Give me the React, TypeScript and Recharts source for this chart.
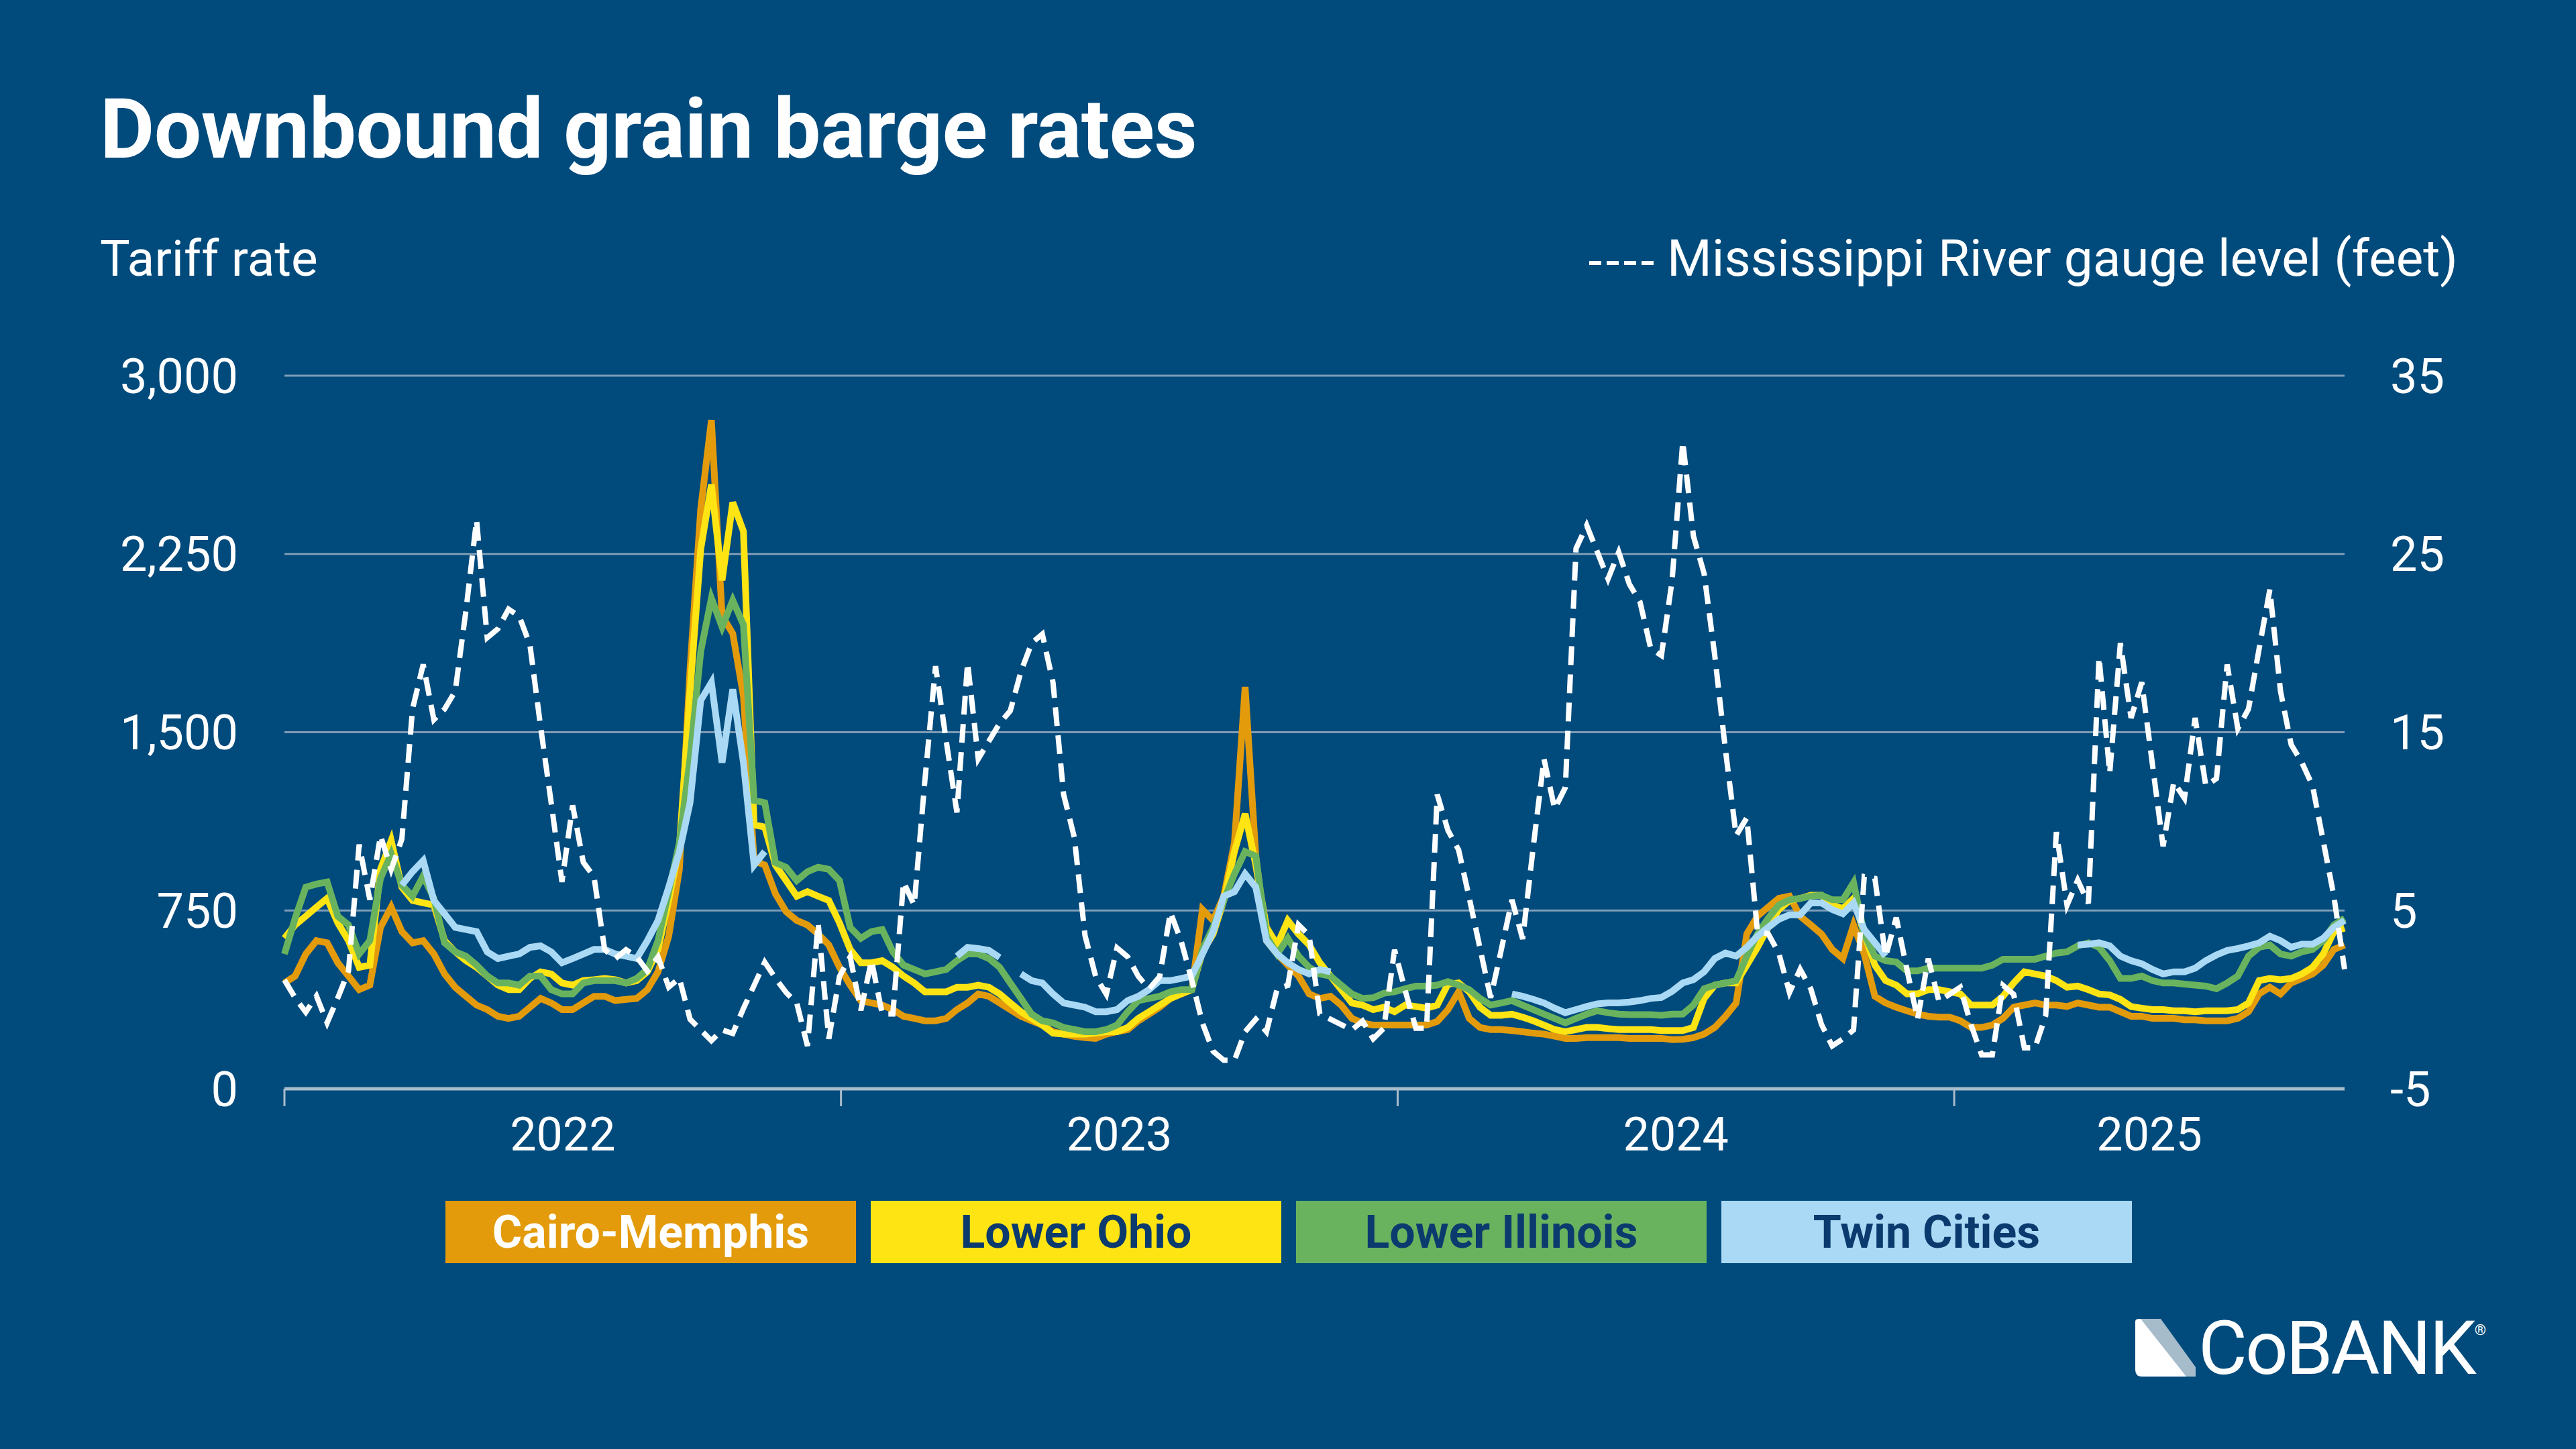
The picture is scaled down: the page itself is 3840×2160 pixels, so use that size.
import React from 'react';
import { CartesianGrid, Line, LineChart, XAxis, YAxis } from 'recharts';

const W = 3840;
const H = 2160;
const BG = '#004a7c';
const GRID = '#7f9cb5';
const AXIS = '#a9bccb';
const FONT = 'Roboto, "Noto Sans", sans-serif';

const ORANGE = '#e39b0c';
const YELLOW = '#ffe414';
const GREEN = '#6ab35e';
const LIGHT_BLUE = '#a9d9f4';
const NAVY = '#0b3a6e';

// Weekly readings, first week of 2022 through mid-September 2025 (194 weeks)
const cairoMemphis = [
  445, 474, 567, 623, 614, 530, 474, 417, 436, 679, 764, 661, 614, 623, 567, 483, 427, 389, 352, 333, 305, 296, 305, 343, 380, 361, 333, 333, 361, 389, 389, 371, 376,
  380, 417, 492, 642, 923, 1765, 2439, 2813, 1990, 1915, 1653, 960, 941, 820, 745, 708, 689, 651, 605, 511, 436, 371, 361, 352, 333, 305, 296, 286, 286, 296, 333, 361,
  399, 389, 361, 333, 305, 286, 268, 240, 230, 221, 215, 212, 230, 240, 249, 286, 314, 343, 380, 399, 417, 754, 708, 810, 1035, 1690, 979, 623, 567, 520, 474, 399, 380,
  389, 352, 296, 277, 268, 268, 268, 268, 268, 268, 283, 333, 408, 296, 258, 249, 249, 245, 240, 234, 230, 221, 212, 212, 215, 215, 215, 215, 212, 212, 212, 212, 207,
  208, 215, 230, 258, 305, 361, 651, 726, 764, 801, 810, 726, 689, 651, 586, 548, 689, 567, 389, 361, 343, 328, 314, 305, 301, 301, 286, 258, 258, 268, 296, 343,
  352, 361, 352, 352, 346, 361, 352, 343, 343, 324, 305, 305, 296, 296, 296, 290, 290, 286, 286, 286, 296, 324, 399, 427, 399, 445, 464, 483, 520, 586, 605,
];

const lowerOhio = [
  633, 689, 726, 764, 801, 698, 623, 511, 520, 923, 1044, 848, 792, 782, 773, 623, 576, 539, 511, 474, 436, 417, 417, 464, 492, 483, 445, 436, 455, 459, 464, 459, 445,
  455, 492, 586, 792, 1016, 1671, 2270, 2542, 2139, 2467, 2345, 1110, 1101, 941, 876, 810, 829, 810, 792, 698, 586, 530, 530, 539, 511, 474, 445, 408, 408, 408, 427, 427,
  436, 427, 399, 361, 324, 296, 268, 234, 230, 230, 230, 234, 240, 240, 258, 296, 324, 352, 380, 399, 417, 576, 651, 792, 998, 1157, 941, 679, 605, 708, 651, 605, 530,
  474, 417, 361, 352, 333, 343, 324, 352, 346, 339, 352, 440, 445, 408, 343, 309, 309, 314, 301, 286, 268, 249, 240, 249, 258, 258, 253, 249, 249, 249, 249, 245, 245,
  245, 258, 380, 436, 445, 445, 520, 595, 679, 754, 792, 801, 814, 814, 773, 758, 801, 651, 520, 455, 436, 399, 399, 417, 417, 408, 399, 352, 352, 352, 389, 445,
  492, 483, 474, 455, 427, 432, 417, 399, 395, 376, 346, 339, 333, 333, 328, 328, 324, 328, 328, 328, 333, 361, 455, 464, 459, 464, 483, 511, 567, 661, 676,
];

const lowerIllinois = [
  567, 717, 848, 861, 870, 726, 689, 567, 623, 885, 988, 857, 810, 895, 801, 614, 576, 558, 520, 474, 445, 445, 436, 474, 474, 417, 399, 399, 445, 455, 455, 455, 445,
  464, 502, 623, 829, 1035, 1391, 1840, 2064, 1943, 2055, 1952, 1213, 1203, 951, 932, 876, 913, 932, 923, 876, 679, 633, 661, 670, 576, 520, 502, 483, 492, 502, 539, 567,
  567, 548, 511, 445, 380, 314, 286, 277, 258, 249, 240, 240, 249, 268, 324, 371, 380, 389, 408, 417, 417, 586, 679, 792, 904, 998, 979, 642, 567, 633, 558, 511, 483,
  474, 436, 399, 380, 383, 402, 408, 421, 432, 432, 436, 451, 436, 417, 380, 352, 361, 371, 352, 333, 314, 296, 277, 296, 314, 328, 320, 314, 312, 312, 312, 309, 314,
  314, 352, 421, 436, 445, 455, 558, 651, 717, 773, 795, 801, 810, 814, 795, 795, 867, 651, 558, 539, 533, 496, 496, 507, 507, 507, 507, 507, 507, 520, 545, 545,
  545, 545, 558, 571, 576, 601, 614, 595, 539, 464, 464, 474, 455, 445, 445, 440, 436, 432, 421, 445, 474, 558, 595, 605, 567, 558, 576, 586, 623, 689, 717,
];

// Twin Cities is not quoted while the upper river is closed in winter
const twinCities = [
  null, null, null, null, null, null, null, null, null, null, null,
  857, 913, 960, 792, 736, 679, 670, 661, 576, 548, 558, 567, 595, 601, 576, 530, 548, 567, 586, 586, 567, 558,
  548, 623, 708, 848, 998, 1204, 1634, 1709, 1372, 1681, 1372, 941, 998,
  null, null, null, null, null, null, null, null, null, null, null, null, null, null, null, null, null,
  558, 595, 590, 582, 552,
  null,
  483, 455, 445, 399, 361, 352, 343, 324, 324, 333, 371, 389, 417, 455, 455, 464, 474, 567, 661, 810, 829, 904, 848, 623, 567, 530, 502, 483, 502, 492,
  null, null, null, null, null, null, null, null, null, null, null, null, null, null, null, null,
  399, 389, 376, 361, 339, 320, 333, 346, 357, 361, 361, 365, 371, 380, 384, 410, 445, 459, 492, 548, 571, 558, 595, 642, 679, 713, 732, 732, 782, 782, 754, 736, 782, 670, 614, 558,
  null, null, null, null, null, null, null, null, null, null, null, null, null, null, null, null, null,
  605, 608, 614, 601, 558, 539, 526, 502, 483, 492, 492, 507, 539, 563, 582, 590, 601, 614, 642, 623, 595, 608, 608, 633, 679, 708,
];

const gaugeFeet = [
  1.1, 0.1, -0.7, 0.2, -1.3, 0.1, 1.6, 8.7, 5.6, 9.2, 7.3, 9.0, 16.3, 18.8, 15.7, 16.3, 17.3, 21.8, 26.9, 20.3, 20.8, 21.9, 21.5, 19.9, 15.3, 11.0, 6.6, 10.9, 7.7, 6.9, 2.8, 2.3, 2.8,
  2.4, 1.6, 2.4, 0.7, 1.2, -1.1, -1.7, -2.3, -1.7, -1.9, -0.5, 0.8, 2.1, 1.2, 0.4, -0.2, -2.6, 4.3, -2.2, 1.3, 2.4, -0.6, 2.2, -0.8, -0.8, 6.6, 5.3, 12.3, 18.7, 14.5, 10.5, 18.9,
  13.5, 14.5, 15.5, 16.2, 18.4, 20.0, 20.5, 17.8, 11.5, 9.1, 3.6, 1.3, 0.3, 2.9, 2.4, 1.3, 0.6, 1.3, 4.9, 3.3, 1.1, -1.3, -2.9, -3.4, -3.4, -1.8, -1.1, -1.8, 0.6, 0.8, 4.2, 3.6, -0.8,
  -1.1, -1.4, -1.7, -1.2, -2.2, -1.6, 2.8, 0.5, -1.6, -1.6, 11.5, 9.5, 8.4, 5.7, 2.9, 0.1, 2.8, 5.6, 3.4, 8.6, 13.5, 10.7, 11.9, 25.3, 26.6, 25.1, 23.6, 25.1, 23.3, 22.3, 19.7, 19.3, 23.5,
  31.3, 26.0, 23.9, 19.3, 14.0, 9.2, 10.2, 3.8, 3.7, 2.6, 0.4, 1.7, 0.6, -1.4, -2.6, -2.2, -1.7, 6.9, 6.8, 2.4, 4.6, 1.7, -1.1, 2.3, -0.1, 0.3, 0.7, -1.4, -3.1, -3.1, 0.8, 0.3,
  -2.7, -2.7, -0.9, 9.4, 5.3, 6.7, 5.4, 19.2, 12.7, 20.0, 15.8, 17.8, 13.2, 8.6, 12.2, 11.3, 15.8, 12.0, 12.4, 18.8, 15.2, 16.3, 19.7, 23.0, 17.3, 14.3, 13.3, 12.0, 8.9, 5.8, 1.7,
];

const YEARS = ['2022', '2023', '2024', '2025'];
// week offsets (from Jan 1, 2022) where each calendar year begins
const YEAR_STARTS = [0, 52.14, 104.29, 156.43];
const RATE_TICKS = [0, 750, 1500, 2250, 3000];
const GAUGE_TICKS = [-5, 5, 15, 25, 35];

const LEGEND = [
  { label: 'Cairo-Memphis', fill: ORANGE, text: '#ffffff' },
  { label: 'Lower Ohio', fill: YELLOW, text: NAVY },
  { label: 'Lower Illinois', fill: GREEN, text: NAVY },
  { label: 'Twin Cities', fill: LIGHT_BLUE, text: NAVY },
];

const LAST_WEEK = cairoMemphis.length - 1;
const YEAR_MIDS = YEAR_STARTS.map((s, k) => (s + (YEAR_STARTS[k + 1] ?? LAST_WEEK)) / 2);
const X_TICKS = [...YEAR_STARTS, ...YEAR_MIDS].sort((a, b) => a - b);

const data = cairoMemphis.map((v, i) => ({
  week: i,
  cm: v,
  lo: lowerOhio[i],
  li: lowerIllinois[i],
  tc: twinCities[i],
  gauge: gaugeFeet[i],
}));

// Year boundaries get a short tick mark; the labels sit midway through each year
function YearTick({ x, y, payload }: any) {
  if (YEAR_STARTS.includes(payload.value)) {
    return <line x1={x} x2={x} y1={y} y2={y + 26} stroke={AXIS} strokeWidth={3} />;
  }
  const k = YEAR_MIDS.indexOf(payload.value);
  return (
    <text x={x} y={y + 68} textAnchor='middle' dominantBaseline='central' fill='#ffffff' fontSize={70} fontFamily={FONT}>
      {YEARS[k]}
    </text>
  );
}

function CoBankLogo() {
  return (
    <div style={{ position: 'absolute', left: 3181, top: 1966, display: 'flex', alignItems: 'flex-end' }}>
      <svg width={96} height={88} viewBox='0 0 96 88'>
        <path d='M2 4 Q2 0 8 0 L30 0 L92 86 L12 86 Q2 86 2 76 Z' fill='#ffffff' />
        <path d='M10 0 L40 0 L92 72 L92 86 L78 86 Z' fill='#a7bccb' />
      </svg>
      <span style={{ fontFamily: FONT, fontSize: 112, lineHeight: '88px', color: '#ffffff', letterSpacing: -3 }}>CoBANK</span>
      <span style={{ fontFamily: FONT, fontSize: 22, color: '#ffffff', alignSelf: 'flex-start', marginTop: 4 }}>®</span>
    </div>
  );
}

export default function App() {
  return (
    <div style={{ position: 'absolute', left: 0, top: 0, width: W, height: H, background: BG, overflow: 'hidden', fontFamily: FONT }}>
      <div style={{ position: 'absolute', left: 149, top: 130, fontSize: 125, lineHeight: 1, fontWeight: 700, color: '#ffffff', letterSpacing: -0.5 }}>
        Downbound grain barge rates
      </div>
      <div style={{ position: 'absolute', left: 149, top: 348, fontSize: 75, lineHeight: 1, color: '#ffffff' }}>Tariff rate</div>
      <div style={{ position: 'absolute', right: 176, top: 347, fontSize: 76.5, lineHeight: 1, color: '#ffffff', display: 'flex', alignItems: 'center' }}>
        <svg width={96} height={20} style={{ marginRight: 20, marginTop: 14 }}>
          <line x1={0} x2={96} y1={10} y2={10} stroke='#ffffff' strokeWidth={6} strokeDasharray='18 8' />
        </svg>
        Mississippi River gauge level (feet)
      </div>

      <div style={{ position: 'absolute', left: 0, top: 0 }}>
        <LineChart width={W} height={H} data={data} margin={{ top: 560, right: 45, bottom: 417, left: 124 }}>
          <CartesianGrid yAxisId='left' vertical={false} stroke={GRID} strokeWidth={3} />
          <XAxis
            dataKey='week'
            type='number'
            domain={[0, LAST_WEEK]}
            ticks={X_TICKS}
            interval={0}
            tick={<YearTick />}
            tickLine={false}
            tickSize={0}
            tickMargin={0}
            height={120}
            axisLine={{ stroke: AXIS, strokeWidth: 5 }}
          />
          <YAxis
            yAxisId='left'
            domain={[0, 3000]}
            ticks={RATE_TICKS}
            interval={0}
            width={300}
            axisLine={false}
            tickLine={false}
            tickSize={0}
            tickMargin={69}
            tick={{ fill: '#ffffff', fontSize: 72, fontFamily: FONT }}
            tickFormatter={(v: number) => v.toLocaleString('en-US')}
          />
          <YAxis
            yAxisId='right'
            orientation='right'
            domain={[-5, 35]}
            ticks={GAUGE_TICKS}
            interval={0}
            width={300}
            axisLine={false}
            tickLine={false}
            tickSize={0}
            tickMargin={68}
            tick={{ fill: '#ffffff', fontSize: 72, fontFamily: FONT }}
          />
          <Line yAxisId='left' type='linear' dataKey='cm' stroke={ORANGE} strokeWidth={10} dot={false} activeDot={false} isAnimationActive={false} />
          <Line yAxisId='left' type='linear' dataKey='lo' stroke={YELLOW} strokeWidth={10} dot={false} activeDot={false} isAnimationActive={false} />
          <Line yAxisId='left' type='linear' dataKey='li' stroke={GREEN} strokeWidth={10} dot={false} activeDot={false} isAnimationActive={false} />
          <Line yAxisId='left' type='linear' dataKey='tc' stroke={LIGHT_BLUE} strokeWidth={10} dot={false} activeDot={false} isAnimationActive={false} />
          <Line
            yAxisId='right'
            type='linear'
            dataKey='gauge'
            stroke='#ffffff'
            strokeWidth={8}
            strokeDasharray='28 14'
            dot={false}
            activeDot={false}
            isAnimationActive={false}
          />
        </LineChart>
      </div>

      <div style={{ position: 'absolute', left: 664, top: 1790, display: 'flex', gap: 22 }}>
        {LEGEND.map((item) => (
          <div
            key={item.label}
            style={{
              width: 612,
              height: 93,
              background: item.fill,
              color: item.text,
              fontSize: 68,
              fontWeight: 700,
              display: 'flex',
              alignItems: 'center',
              justifyContent: 'center',
            }}
          >
            {item.label}
          </div>
        ))}
      </div>

      <CoBankLogo />
    </div>
  );
}
